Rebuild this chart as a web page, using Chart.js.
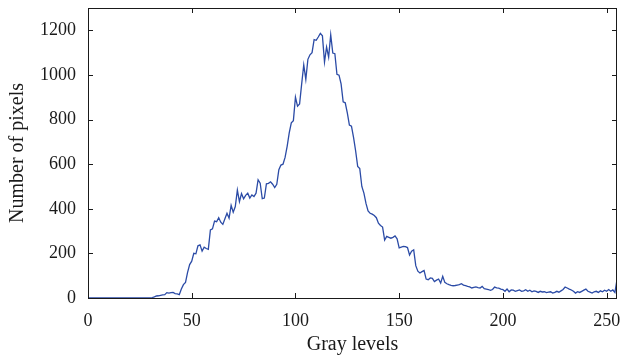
<!DOCTYPE html>
<html>
<head>
<meta charset="utf-8">
<script src="https://cdn.jsdelivr.net/npm/chart.js@4"></script>
<style>
  html, body { margin: 0; padding: 0; background: #fff; }
</style>
</head>
<body>
<canvas id="chart" width="624" height="358"></canvas>
<script>
const grayLevels = Array.from({ length: 256 }, (_, i) => i);

// pixel counts per gray level
const pixelCounts = [
  0, 0, 0, 0, 0, 0, 0, 0, 0, 0,
  0, 0, 0, 0, 0, 0, 0, 0, 0, 0,
  0, 0, 0, 0, 0, 0, 0, 0, 0, 0,
  0, 2, 5, 9, 10, 12, 14, 15, 24, 22,
  24, 25, 20, 18, 15, 40, 60, 70, 115, 150,
  165, 200, 198, 234, 238, 210, 228, 222, 218, 305,
  310, 345, 342, 360, 340, 330, 355, 380, 358, 415,
  385, 410, 484, 432, 468, 445, 460, 470, 448, 462,
  455, 470, 530, 515, 445, 448, 512, 514, 521, 510,
  495, 510, 575, 596, 600, 630, 680, 740, 785, 795,
  900, 860, 870, 960, 1045, 980, 1070, 1090, 1100, 1158,
  1155, 1170, 1186, 1175, 1058, 1125, 1080, 1180, 1098, 1095,
  1003, 999, 960, 879, 875, 830, 775, 770, 720, 660,
  590, 580, 500, 470, 424, 390, 380, 376, 370, 360,
  335, 325, 318, 260, 276, 272, 268, 272, 278, 265,
  225, 228, 231, 230, 226, 193, 210, 216, 145, 120,
  112, 118, 123, 85, 82, 90, 88, 74, 80, 85,
  67, 97, 70, 64, 60, 57, 55, 56, 58, 60,
  64, 58, 55, 52, 50, 45, 48, 50, 47, 45,
  52, 42, 40, 38, 34, 38, 49, 45, 44, 40,
  38, 30, 40, 28, 36, 35, 30, 33, 36, 30,
  32, 37, 30, 35, 28, 32, 30, 25, 30, 27,
  28, 24, 26, 28, 22, 25, 30, 26, 32, 38,
  49, 45, 40, 36, 30, 22, 28, 25, 30, 35,
  40, 30, 26, 22, 28, 30, 25, 32, 28, 35,
  30, 38, 30, 36, 25, 82
];

const xTicks = [0, 50, 100, 150, 200, 250];
const yTicks = [0, 200, 400, 600, 800, 1000, 1200];

const FONT = 'Liberation Serif';
const INK = '#1a1a1a';

// box around the plot plus inward tick marks on all four sides
const frameTicks = {
  id: 'frameTicks',
  afterDraw(chart) {
    const { ctx, chartArea: a, scales } = chart;
    const len = 5;
    ctx.save();
    ctx.strokeStyle = INK;
    ctx.lineWidth = 1;
    ctx.strokeRect(a.left + 0.5, a.top + 0.5, a.right - a.left - 1, a.bottom - a.top);
    ctx.beginPath();
    xTicks.forEach(v => {
      const px = Math.round(scales.x.getPixelForValue(v)) + 0.5;
      ctx.moveTo(px, a.bottom); ctx.lineTo(px, a.bottom - len);
      ctx.moveTo(px, a.top); ctx.lineTo(px, a.top + len);
    });
    yTicks.forEach(v => {
      const py = Math.round(scales.y.getPixelForValue(v)) + 0.5;
      ctx.moveTo(a.left, py); ctx.lineTo(a.left + len, py);
      ctx.moveTo(a.right, py); ctx.lineTo(a.right - len, py);
    });
    ctx.stroke();
    ctx.restore();
  }
};

new Chart(document.getElementById('chart'), {
  type: 'line',
  data: {
    datasets: [{
      data: grayLevels.map((g, i) => ({ x: g, y: pixelCounts[i] })),
      borderColor: '#2b4ba6',
      borderWidth: 1.3,
      pointRadius: 0,
      tension: 0,
      fill: false
    }]
  },
  options: {
    responsive: false,
    animation: false,
    layout: { padding: { left: 0, right: 7, top: 8, bottom: 0 } },
    plugins: { legend: { display: false }, tooltip: { enabled: false } },
    scales: {
      x: {
        type: 'linear',
        min: 0,
        max: 255,
        afterBuildTicks: s => { s.ticks = xTicks.map(v => ({ value: v })); },
        afterFit: s => { s.height = 60; s.paddingLeft = 0; s.paddingRight = 0; },
        grid: { display: false },
        border: { display: false },
        ticks: { color: INK, font: { family: FONT, size: 18 }, padding: 4, maxRotation: 0 },
        title: {
          display: true,
          text: 'Gray levels',
          color: INK,
          font: { family: FONT, size: 20 },
          padding: { top: 0, bottom: 1 }
        }
      },
      y: {
        min: 0,
        max: 1300,
        afterBuildTicks: s => { s.ticks = yTicks.map(v => ({ value: v })); },
        afterFit: s => { s.width = 88; s.paddingTop = 0; s.paddingBottom = 0; },
        grid: { display: false },
        border: { display: false },
        ticks: {
          color: INK,
          font: { family: FONT, size: 18 },
          padding: 4,
          callback: v => String(v)
        },
        title: {
          display: true,
          text: 'Number of pixels',
          color: INK,
          font: { family: FONT, size: 20 },
          padding: { top: 6, bottom: 0 }
        }
      }
    }
  },
  plugins: [frameTicks]
});
</script>
</body>
</html>
